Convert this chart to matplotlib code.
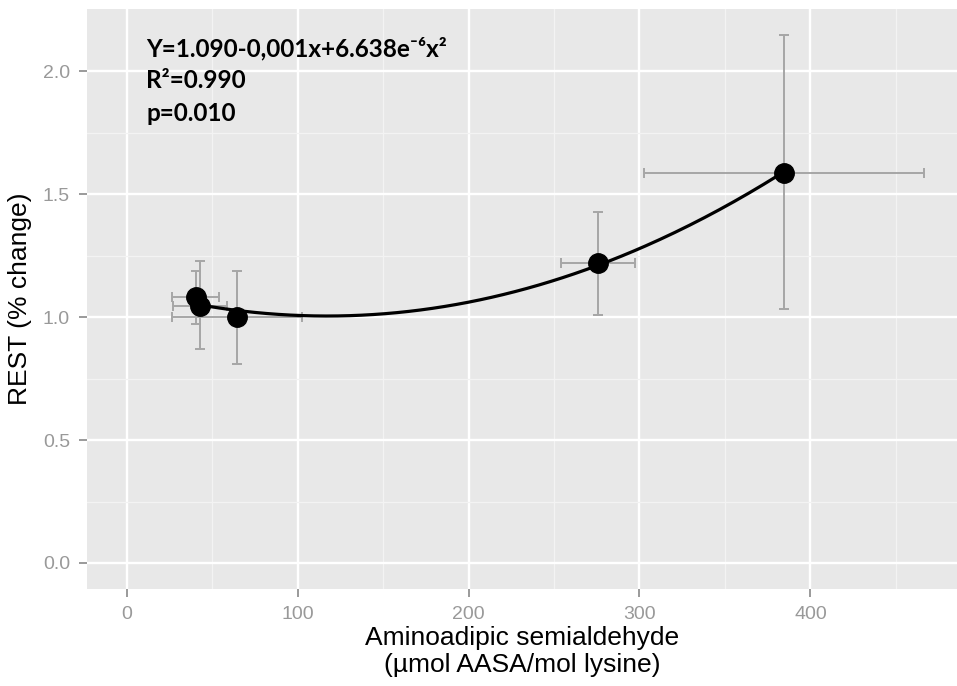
import numpy as np
import matplotlib.pyplot as plt

# means and error bar limits
aasa = [40.5, 43.0, 64.5, 275.6, 384.7]
rest = [1.081, 1.045, 0.999, 1.219, 1.588]
aasa_lo = [26.5, 27.1, 26.5, 254.0, 302.9]
aasa_hi = [54.3, 59.0, 102.5, 297.3, 466.6]
rest_lo = [0.971, 0.871, 0.808, 1.009, 1.032]
rest_hi = [1.189, 1.229, 1.189, 1.428, 2.146]

x = np.array(aasa)
y = np.array(rest)
xerr = [x - np.array(aasa_lo), np.array(aasa_hi) - x]
yerr = [y - np.array(rest_lo), np.array(rest_hi) - y]

fig = plt.figure(figsize=(9.57, 6.86), dpi=100)
ax = fig.add_axes([86.7 / 957, 1 - 589.3 / 686, 1 - 86.7 / 957, (589.3 - 9) / 686])

ax.set_facecolor('#E8E8E8')
for s in ax.spines.values():
    s.set_visible(False)

ax.set_xticks([0, 100, 200, 300, 400])
ax.set_xticks([50, 150, 250, 350, 450], minor=True)
ax.set_yticks([0.0, 0.5, 1.0, 1.5, 2.0])
ax.set_yticks([0.25, 0.75, 1.25, 1.75], minor=True)
ax.set_yticklabels(['0.0', '0.5', '1.0', '1.5', '2.0'])
ax.grid(which='major', color='white', linewidth=1.7)
ax.grid(which='minor', color='#F3F3F3', linewidth=0.9)
ax.set_axisbelow(True)
ax.tick_params(which='major', length=6, width=1.1, color='#7F7F7F',
               labelcolor='#999999', labelsize=14, pad=6)
ax.tick_params(which='minor', length=0)
for lab in ax.get_xticklabels() + ax.get_yticklabels():
    lab.set_family('Liberation Sans')

ax.errorbar(x, y, xerr=xerr, yerr=yerr, fmt='none', ecolor='#A6A6A6',
            elinewidth=1.4, capsize=3.5, capthick=1.4, zorder=2)

# quadratic fit through the means
coef = np.polyfit(x, y, 2)
xs = np.linspace(x.min(), x.max(), 200)
ax.plot(xs, np.polyval(coef, xs), color='black', linewidth=2.3, zorder=3)
ax.plot(x, y, 'o', color='black', markersize=14, zorder=4)

ax.set_xlim(-23.3, 485.7)
ax.set_ylim(-0.107, 2.253)

ax.set_xlabel('Aminoadipic semialdehyde\n(µmol AASA/mol lysine)',
              fontsize=19, family='Liberation Sans', labelpad=2, linespacing=1.15)
ax.set_ylabel('REST (% change)', fontsize=19, family='Liberation Sans', labelpad=8)

ann = ['Y=1.090-0,001x+6.638e⁻⁶x²', 'R²=0.990', 'p=0.010']
for i, t in enumerate(ann):
    ax.text(146 / 957, 1 - (56 + 32.5 * i) / 686, t, transform=fig.transFigure,
            fontsize=17.5, fontweight='bold', family=['Lato', 'DejaVu Sans'],
            ha='left', va='baseline')

fig.savefig('out.png', dpi=100)
